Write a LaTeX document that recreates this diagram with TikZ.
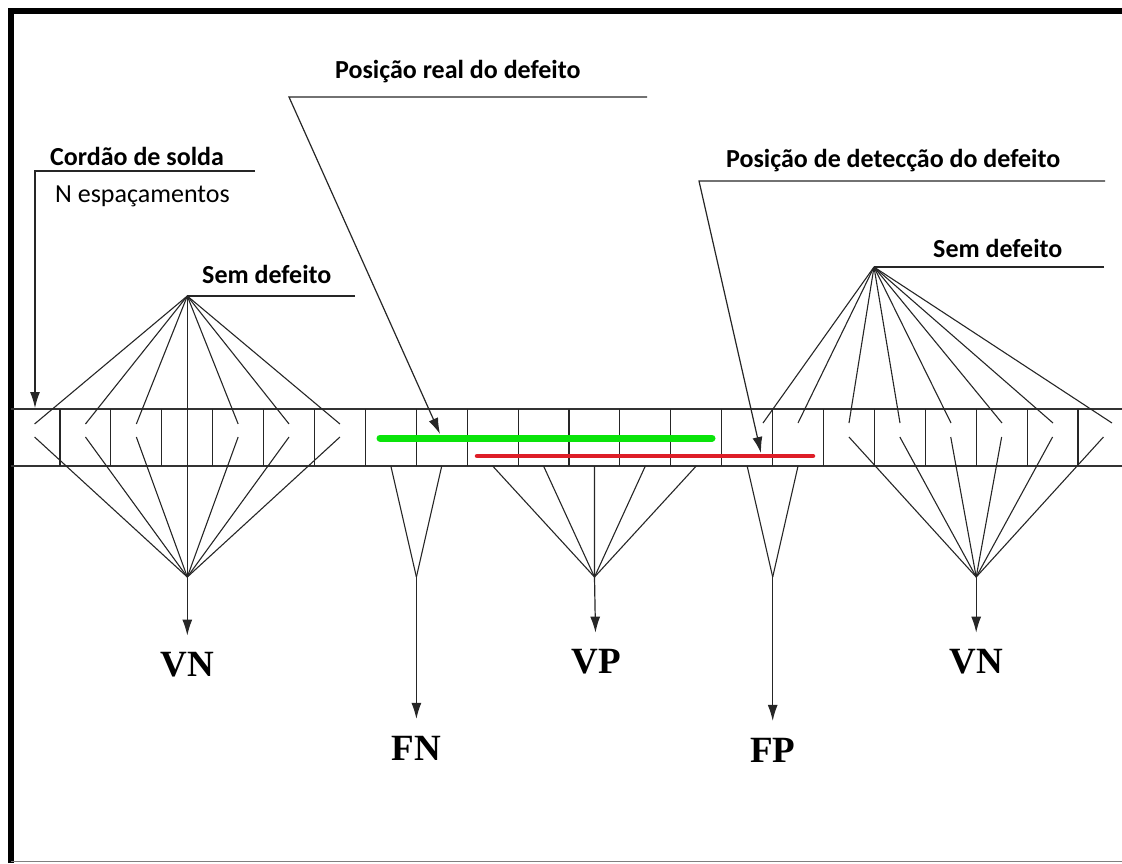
\documentclass[tikz,border=0pt]{standalone}
\usepackage{fontspec}
\setmainfont{Liberation Serif}
\newfontfamily\calibri{Carlito}
\usetikzlibrary{arrows.meta}
\definecolor{defgreen}{RGB}{10,228,10}
\definecolor{defred}{RGB}{222,30,40}

\begin{document}
\begin{tikzpicture}[x=1pt,y=-1pt,
  fan/.style={line width=1.1pt,black!85},
  strip/.style={line width=1.5pt,black!80},
  cell/.style={line width=1.1pt,black!85},
  lead/.style={line width=1.2pt,black!85},
  arr/.style={lead,-{Latex[length=16pt,width=10pt]}},
  txt/.style={font=\calibri\bfseries\fontsize{26}{30}\selectfont,inner sep=0pt,anchor=base west},
  res/.style={font=\bfseries\fontsize{37}{40}\selectfont,inner sep=0pt,outer sep=17pt}]

\useasboundingbox (0,0) rectangle (1122,863);

% moldura
\draw[line width=6pt] (11,863) -- (11,11) -- (1122,11);
\draw[gray,line width=1pt] (11,861) -- (1122,861);

% cordao e espacamentos
\draw[strip] (11,409) -- (1122,409);
\draw[strip] (11,466) -- (1122,466);
\foreach \i in {0,...,20}
  \draw[cell] (60+50.9*\i,409) -- (60+50.9*\i,466);

\foreach \k in {0,...,21} {
  \coordinate (t\k) at (34.55+50.9*\k,424);
  \coordinate (m\k) at (34.55+50.9*\k,437);
  \coordinate (b\k) at (34.55+50.9*\k,466);
}

% defeito real e detectado
\draw[defgreen,line width=7pt,line cap=round] (380,438) -- (712,438);
\draw[defred,line width=4.5pt,line cap=round] (477,456) -- (813,456);
\coordinate (real) at (440,434);
\coordinate (det) at (761,453);

% leque da esquerda
\coordinate (semL) at (187.3,296);
\coordinate (vnL) at (187.3,577);
\foreach \k in {0,1,2,4,5,6} {
  \draw[fan] (semL) -- (t\k);
  \draw[fan] (vnL) -- (m\k);
}
\draw[fan] (semL) -- (vnL);

% FN, VP, FP
\coordinate (fn) at (416.4,577);
\foreach \k in {7,8} \draw[fan] (fn) -- (b\k);
\coordinate (vp) at (594.5,577);
\foreach \k in {9,...,13} \draw[fan] (vp) -- (b\k);
\coordinate (fp) at (772.7,577);
\foreach \k in {14,15} \draw[fan] (fp) -- (b\k);

% leque da direita
\coordinate (semR) at (874,267);
\coordinate (vnR) at (976.2,577);
\foreach \x [count=\n] in {763,798,849,900,951,1002,1053,1112} {
  \coordinate (u\n) at (\x,423);
  \draw[fan] (semR) -- (u\n);
}
\foreach \k in {16,...,21} \draw[fan] (vnR) -- (m\k);

% textos
\node[txt] (cordao) at (50,165) {Cordão de solda};
\node[txt,font=\calibri\fontsize{26}{30}\selectfont] (nesp) at (55,202) {N espaçamentos};
\coordinate (cordaoA) at (35,171);
\coordinate (cordaoB) at (255,171);
\coordinate (inicio) at (35,408);
\draw[arr] (cordaoB) -- (cordaoA) -- (inicio);

\node[txt] (posreal) at (335,78) {Posição real do defeito};
\coordinate (realA) at (289,97);
\coordinate (realB) at (647,97);
\draw[arr] (realB) -- (realA) -- (real);

\node[txt] (posdet) at (726,167) {Posição de detecção do defeito};
\coordinate (detA) at (699,181);
\coordinate (detB) at (1105,181);
\draw[arr] (detB) -- (detA) -- (det);

\node[txt] (semdefL) at (202,283) {Sem defeito};
\coordinate (semLB) at (355,296);
\draw[lead] (semLB) -- (semL);

\node[txt] (semdefR) at (933,257) {Sem defeito};
\coordinate (semRB) at (1104,267);
\draw[lead] (semRB) -- (semR);

% resultados
\node[res] (lvnL) at (187.3,665) {VN};
\node[res] (lfn) at (416.4,748) {FN};
\node[res] (lvp) at (596,662) {VP};
\node[res] (lfp) at (772.7,750) {FP};
\node[res] (lvnR) at (976.2,662) {VN};
\draw[arr] (vnL) -- (lvnL);
\draw[arr] (fn) -- (lfn);
\draw[arr] (vp) -- (lvp);
\draw[arr] (fp) -- (lfp);
\draw[arr] (vnR) -- (lvnR);

\end{tikzpicture}
\end{document}
